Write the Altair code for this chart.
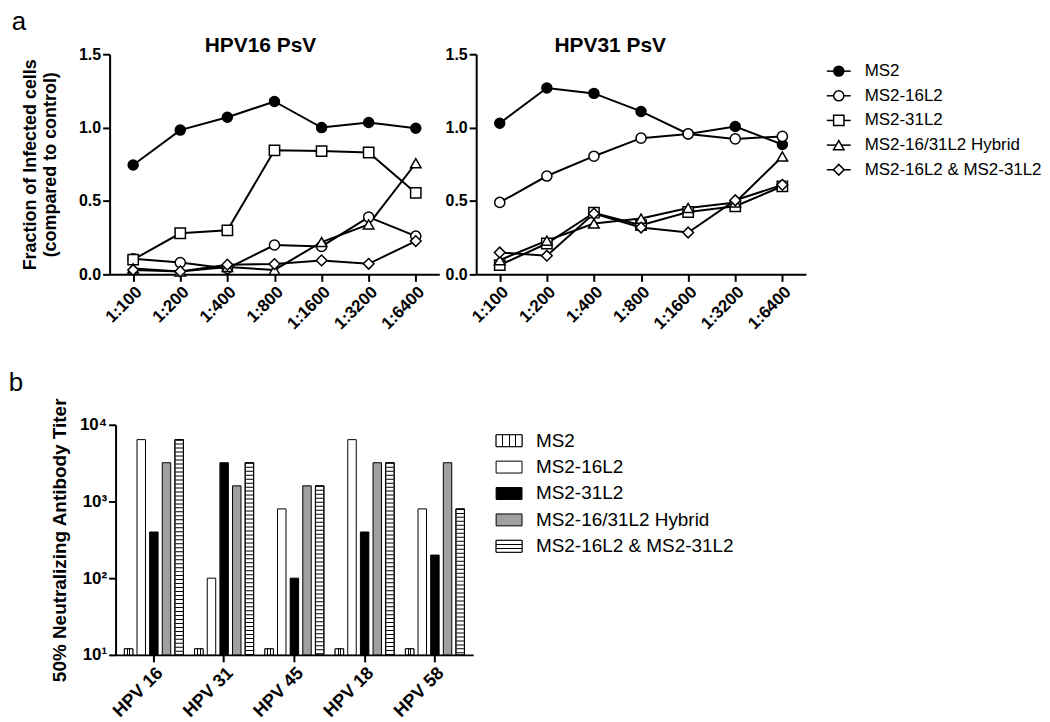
import altair as alt
import pandas as pd

FONT = "Liberation Sans"

# ---------------- data ----------------
dilutions = ["1:100", "1:200", "1:400", "1:800", "1:1600", "1:3200", "1:6400"]
series = ["MS2", "MS2-16L2", "MS2-31L2", "MS2-16/31L2 Hybrid", "MS2-16L2 & MS2-31L2"]

hpv16_ms2 = [0.745, 0.983, 1.07, 1.178, 1.0, 1.035, 0.995]
hpv16_16l2 = [0.106, 0.08, 0.04, 0.20, 0.19, 0.39, 0.26]
hpv16_31l2 = [0.10, 0.28, 0.30, 0.845, 0.84, 0.83, 0.555]
hpv16_hybrid = [0.04, 0.02, 0.05, 0.03, 0.22, 0.34, 0.757]
hpv16_combo = [0.03, 0.02, 0.066, 0.07, 0.095, 0.072, 0.227]

hpv31_ms2 = [1.03, 1.27, 1.233, 1.11, 0.957, 1.007, 0.885]
hpv31_16l2 = [0.49, 0.67, 0.805, 0.928, 0.957, 0.923, 0.94]
hpv31_31l2 = [0.063, 0.21, 0.42, 0.335, 0.425, 0.464, 0.60]
hpv31_hybrid = [0.097, 0.23, 0.346, 0.38, 0.452, 0.49, 0.803]
hpv31_combo = [0.149, 0.127, 0.414, 0.319, 0.285, 0.505, 0.61]

hpv_types = ["HPV 16", "HPV 31", "HPV 45", "HPV 18", "HPV 58"]
titer_ms2 = [12, 12, 12, 12, 12]
titer_16l2 = [6400, 100, 800, 6400, 800]
titer_31l2 = [400, 3200, 100, 400, 200]
titer_hybrid = [3200, 1600, 1600, 3200, 3200]
titer_combo = [6400, 3200, 1600, 3200, 800]

# ---------------- styles ----------------
shapes = ["circle", "circle", "square", "triangle-up", "diamond"]
marker_fill = ["black", "white", "white", "white", "white"]
marker_size = [100, 115, 95, 110, 140]
bar_fill = ["white", "white", "black", "#a0a0a0", "white"]


def stops(pairs):
    return [alt.GradientStop(offset=o, color=c) for o, c in pairs]


ms2_bar_grad = alt.LinearGradient(
    gradient="linear", x1=0, y1=0, x2=1, y2=0,
    stops=stops([(0, "white"), (0.28, "white"), (0.28, "black"), (0.40, "black"),
                 (0.40, "white"), (0.60, "white"), (0.60, "black"), (0.72, "black"),
                 (0.72, "white"), (1, "white")]))
ms2_leg_grad = alt.LinearGradient(
    gradient="linear", x1=0, y1=0, x2=1, y2=0,
    stops=stops([(0, "white"), (0.23, "white"), (0.23, "black"), (0.27, "black"),
                 (0.27, "white"), (0.48, "white"), (0.48, "black"), (0.52, "black"),
                 (0.52, "white"), (0.73, "white"), (0.73, "black"), (0.77, "black"),
                 (0.77, "white"), (1, "white")]))
combo_leg_grad = alt.LinearGradient(
    gradient="linear", x1=0, y1=0, x2=0, y2=1,
    stops=stops([(0, "white"), (0.29, "white"), (0.29, "black"), (0.38, "black"),
                 (0.38, "white"), (0.62, "white"), (0.62, "black"), (0.71, "black"),
                 (0.71, "white"), (1, "white")]))

# ---------------- panel a ----------------
def panel_df(vals_list):
    rows = []
    for s, vals in zip(series, vals_list):
        for d, v in zip(dilutions, vals):
            rows.append({"dilution": d, "series": s, "value": v})
    return pd.DataFrame(rows)


def panel(df, title, ytitle, title_dx):
    x = alt.X("dilution:N", sort=dilutions,
              scale=alt.Scale(type="point", domain=dilutions, padding=0.5),
              axis=alt.Axis(title=None, labelAngle=-45, labelFontSize=17))
    if ytitle:
        yaxis = alt.Axis(values=[0, 0.5, 1, 1.5], format=".1f", labelFontSize=16,
                         title=ytitle, titleFontSize=18, titleFontWeight="bold",
                         titlePadding=19, titleLineHeight=20)
    else:
        yaxis = alt.Axis(values=[0, 0.5, 1, 1.5], format=".1f", labelFontSize=16, title=None)
    y = alt.Y("value:Q", scale=alt.Scale(domain=[0, 1.5]), axis=yaxis)
    base = alt.Chart(df)
    lines = base.mark_line(color="black", strokeWidth=2).encode(x=x, y=y, detail="series:N")
    pts = base.mark_point(filled=True, stroke="black", strokeWidth=1.5, opacity=1).encode(
        x=x, y=y,
        shape=alt.Shape("series:N", scale=alt.Scale(domain=series, range=shapes), legend=None),
        fill=alt.Fill("series:N", scale=alt.Scale(domain=series, range=marker_fill), legend=None),
        size=alt.Size("series:N", scale=alt.Scale(domain=series, range=marker_size), legend=None),
    )
    return alt.layer(lines, pts).properties(
        width=331, height=221,
        title=alt.Title(title, fontSize=21, fontWeight="bold", offset=-10, dx=title_dx),
    )


left = panel(panel_df([hpv16_ms2, hpv16_16l2, hpv16_31l2, hpv16_hybrid, hpv16_combo]),
             "HPV16 PsV", ["Fraction of Infected cells", "(compared to control)"], -14)
right = panel(panel_df([hpv31_ms2, hpv31_16l2, hpv31_31l2, hpv31_hybrid, hpv31_combo]),
              "HPV31 PsV", None, -31)

leg_a_df = pd.DataFrame({"series": series})
ya = alt.Y("series:N", scale=alt.Scale(type="point", domain=series, range=[17, 116], padding=0),
           axis=None)
leg_a_base = alt.Chart(leg_a_df)
leg_a = alt.layer(
    leg_a_base.mark_rule(color="black", strokeWidth=1.5).encode(
        x=alt.value(16), x2=alt.value(40), y=ya),
    leg_a_base.mark_point(filled=True, stroke="black", strokeWidth=1.5, opacity=1).encode(
        x=alt.value(28), y=ya,
        shape=alt.Shape("series:N", scale=alt.Scale(domain=series, range=shapes), legend=None),
        fill=alt.Fill("series:N", scale=alt.Scale(domain=series, range=marker_fill), legend=None),
        size=alt.Size("series:N", scale=alt.Scale(domain=series, range=marker_size), legend=None)),
    leg_a_base.mark_text(align="left", baseline="middle", fontSize=17, font=FONT, color="black").encode(
        x=alt.value(54), y=ya, text="series:N"),
).properties(width=200, height=221)

top_row = alt.hconcat(left, right, leg_a, spacing=5).properties(
    title=alt.Title("a", anchor="start", fontSize=26, fontWeight="normal", dx=-10, offset=0))

# ---------------- panel b ----------------
rows = []
for s, vals in zip(series, [titer_ms2, titer_16l2, titer_31l2, titer_hybrid, titer_combo]):
    for t, v in zip(hpv_types, vals):
        rows.append({"type": t, "vaccine": s, "value": v, "base": 10})
bdf = pd.DataFrame(rows)

bx = alt.X("type:N", sort=hpv_types,
           scale=alt.Scale(domain=hpv_types, paddingInner=0.16, paddingOuter=0.125, range=[6, 365]),
           axis=alt.Axis(title=None, labelAngle=-45, labelFontSize=18))
bxo = alt.XOffset("vaccine:N", sort=series,
                  scale=alt.Scale(domain=series, paddingInner=0.33, paddingOuter=0))
by = alt.Y("value:Q", scale=alt.Scale(type="log", domain=[10, 10000]),
           axis=alt.Axis(values=[10, 100, 1000, 10000], labelFontSize=17, offset=-6,
                         labelExpr="datum.value == 10 ? '10¹' : datum.value == 100 ? '10²' : datum.value == 1000 ? '10³' : '10⁴'",
                         title="50% Neutralizing Antibody Titer", titleFontSize=19,
                         titleFontWeight="bold", titlePadding=10))
by2 = alt.Y2("base:Q")
bfill = alt.Fill("vaccine:N", scale=alt.Scale(domain=series, range=bar_fill), legend=None)

bbase = alt.Chart(bdf)
bars = bbase.mark_bar(stroke="black", strokeWidth=1).encode(
    x=bx, xOffset=bxo, y=by, y2=by2, fill=bfill)
ms2_bars = bbase.transform_filter(alt.datum.vaccine == "MS2").mark_bar(
    stroke="black", strokeWidth=1, fill=ms2_bar_grad).encode(x=bx, xOffset=bxo, y=by, y2=by2)
combo_stripes = bbase.transform_filter(alt.datum.vaccine == "MS2-16L2 & MS2-31L2").mark_rule(
    color="black", strokeWidth=7.5, strokeDash=[1, 3]).encode(x=bx, xOffset=bxo, y=by, y2=by2)
combo_outline = bbase.transform_filter(alt.datum.vaccine == "MS2-16L2 & MS2-31L2").mark_bar(
    stroke="black", strokeWidth=1, fillOpacity=0).encode(x=bx, xOffset=bxo, y=by, y2=by2)

bar_chart = alt.layer(bars, ms2_bars, combo_stripes, combo_outline).properties(width=365, height=231)

rect_path = "M-1,-0.46L1,-0.46L1,0.46L-1,0.46Z"
yb = alt.Y("vaccine:N", scale=alt.Scale(type="point", domain=series, range=[16, 122], padding=0),
           axis=None)
leg_b_base = alt.Chart(pd.DataFrame({"vaccine": series}))
leg_b = alt.layer(
    leg_b_base.mark_point(shape=rect_path, size=676, filled=True, stroke="black", strokeWidth=1, opacity=1).encode(
        x=alt.value(26), y=yb, fill=bfill),
    leg_b_base.transform_filter(alt.datum.vaccine == "MS2").mark_point(
        shape=rect_path, size=676, filled=True, fill=ms2_leg_grad, stroke="black", strokeWidth=1, opacity=1).encode(
        x=alt.value(26), y=yb),
    leg_b_base.transform_filter(alt.datum.vaccine == "MS2-16L2 & MS2-31L2").mark_point(
        shape=rect_path, size=676, filled=True, fill=combo_leg_grad, stroke="black", strokeWidth=1, opacity=1).encode(
        x=alt.value(26), y=yb),
    leg_b_base.mark_text(align="left", baseline="middle", fontSize=19, font=FONT, color="black").encode(
        x=alt.value(53), y=yb, text="vaccine:N"),
).properties(width=230, height=231)

bottom_row = alt.hconcat(bar_chart, leg_b, spacing=10).properties(
    title=alt.Title("b", anchor="start", fontSize=26, fontWeight="normal", dx=-42, offset=2))

chart = alt.concat(top_row, bottom_row, columns=1, spacing=37, align="none").properties(
    padding={"left": 0, "top": 0, "right": 0, "bottom": 0}
).resolve_scale(fill="independent").configure_view(stroke=None).configure_axis(
    domainColor="black", domainWidth=2, tickColor="black", tickWidth=2, tickSize=7,
    labelColor="black", labelFont=FONT, labelFontWeight="bold", labelPadding=2,
    titleFont=FONT, titleColor="black", grid=False,
).configure_title(font=FONT, color="black")

chart.save("out.html", embed_options={"renderer": "svg", "actions": False})
